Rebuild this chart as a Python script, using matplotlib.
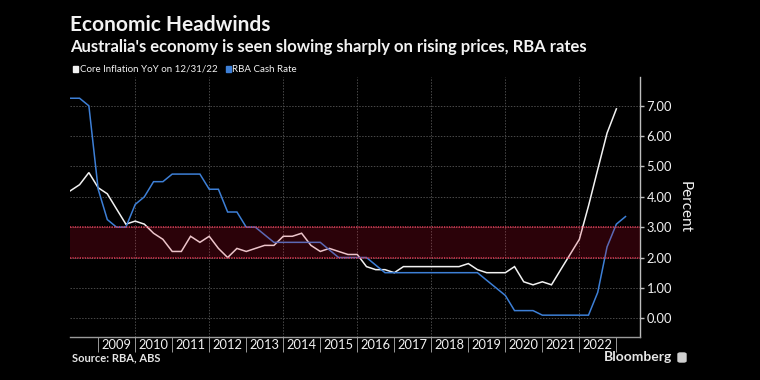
import matplotlib
matplotlib.use("Agg")
import matplotlib.pyplot as plt
import pandas as pd
import numpy as np
from matplotlib.patches import Rectangle, FancyBboxPatch

# ---------------- data (quarter-end values) ----------------
start_quarter = "2008-03-31"
core_inflation = [4.2, 4.4, 4.8, 4.3, 4.1, 3.6, 3.1, 3.2, 3.1, 2.8, 2.6, 2.2,
                  2.2, 2.7, 2.5, 2.7, 2.3, 2.0, 2.3, 2.2, 2.3, 2.4, 2.4, 2.7,
                  2.7, 2.8, 2.4, 2.2, 2.3, 2.2, 2.1, 2.1, 1.7, 1.6, 1.6, 1.5,
                  1.7, 1.7, 1.7, 1.7, 1.7, 1.7, 1.7, 1.8, 1.6, 1.5, 1.5, 1.5,
                  1.7, 1.2, 1.1, 1.2, 1.1, 1.6, 2.1, 2.6, 3.7, 4.9, 6.1, 6.9]
cash_rate = [7.25, 7.25, 7.00, 4.25, 3.25, 3.00, 3.00, 3.75, 4.00, 4.50, 4.50, 4.75,
             4.75, 4.75, 4.75, 4.25, 4.25, 3.50, 3.50, 3.00, 3.00, 2.75, 2.50, 2.50,
             2.50, 2.50, 2.50, 2.50, 2.25, 2.00, 2.00, 2.00, 2.00, 1.75, 1.50, 1.50,
             1.50, 1.50, 1.50, 1.50, 1.50, 1.50, 1.50, 1.50, 1.50, 1.25, 1.00, 0.75,
             0.25, 0.25, 0.25, 0.10, 0.10, 0.10, 0.10, 0.10, 0.10, 0.85, 2.35, 3.10,
             3.35]
target_band = [2.0, 3.0]
year_labels = list(range(2009, 2023))
y_ticks = [0, 1, 2, 3, 4, 5, 6, 7]

title = "Economic Headwinds"
subtitle = "Australia's economy is seen slowing sharply on rising prices, RBA rates"
legend_labels = ["Core Inflation YoY on 12/31/22", "RBA Cash Rate"]
source = "Source: RBA, ABS"


def to_decimal_year(dates):
    return np.array([d.year + d.dayofyear / (366 if d.is_leap_year else 365) for d in dates])


x_core = to_decimal_year(pd.date_range(start_quarter, periods=len(core_inflation), freq="QE"))
x_rate = to_decimal_year(pd.date_range(start_quarter, periods=len(cash_rate), freq="QE"))

# ---------------- styling ----------------
BG = "#000000"
WHITE = "#f2f2f2"
BLUE = "#3d7fd6"
GRID = "#4a4a4a"
AXIS = "#9a9a9a"
FONT = ["Lato", "DejaVu Sans"]
plt.rcParams["font.family"] = FONT

fig = plt.figure(figsize=(7.6, 3.8), dpi=100, facecolor=BG)
ax = fig.add_axes([70 / 760, 1 - 336.7 / 380, (639.7 - 70) / 760, (336.7 - 77) / 380])
ax.set_facecolor(BG)

ax.set_xlim(x_core[0] - 0.01, 2023.63)
ax.set_ylim(-0.61, 7.95)

# gridlines
for yv in y_ticks:
    ax.axhline(yv, color=GRID, lw=0.7, ls=(0, (1.5, 1.5)), zorder=1)
for yr in range(2010, 2023, 2):
    ax.axvline(yr, color=GRID, lw=0.7, ls=(0, (1.5, 1.5)), zorder=1)

# lines
ax.plot(x_core, core_inflation, color=WHITE, lw=1.1, zorder=3, solid_joinstyle="miter")
ax.plot(x_rate, cash_rate, color=BLUE, lw=1.1, zorder=3, solid_joinstyle="miter")

# target band overlay
ax.axhspan(target_band[0], target_band[1], color=(0.85, 0.06, 0.18), alpha=0.2, lw=0, zorder=4)
for yv in target_band:
    ax.axhline(yv, color="#e23a55", lw=1.1, ls=(0, (0.8, 0.8)), zorder=5)

# spines
for s in ["top", "left"]:
    ax.spines[s].set_visible(False)
ax.spines["bottom"].set_color(AXIS)
ax.spines["bottom"].set_linewidth(1.0)
ax.spines["right"].set_color("#bdbdbd")
ax.spines["right"].set_linewidth(1.0)

# y axis on right
ax.yaxis.tick_right()
ax.set_yticks(y_ticks)
ax.set_yticklabels([f"{v:.2f}" for v in y_ticks])
ax.tick_params(axis="y", colors="#bdbdbd", labelcolor=WHITE, length=3, width=1,
               labelsize=9.3, pad=2)
ax.yaxis.set_label_position("right")
ax.set_ylabel("Percent", color=WHITE, fontsize=11, rotation=270, labelpad=14)

# x axis: separators at year boundaries, labels centred
ax.set_xticks(list(range(2009, 2024)))
ax.set_xticklabels([])
ax.set_xticks([y + 0.5 for y in year_labels], minor=True)
ax.set_xticklabels([str(y) for y in year_labels], minor=True)
ax.tick_params(axis="x", which="major", colors=AXIS, length=11, width=0.7, direction="out")
ax.tick_params(axis="x", which="minor", length=0, labelcolor=WHITE, labelsize=9.3, pad=2)

# titles and legend
fig.text(70 / 760, 1 - 25 / 380, title, color=WHITE, fontsize=15, fontweight="bold",
         va="center", ha="left")
fig.text(70 / 760, 1 - 47 / 380, subtitle, color=WHITE, fontsize=12, fontweight="bold",
         va="center", ha="left")

ly = 1 - 69 / 380
fig.patches.append(Rectangle((73 / 760, ly - 2.5 / 380), 5 / 760, 5 / 380,
                             transform=fig.transFigure, color=WHITE, figure=fig))
fig.text(79.5 / 760, ly, legend_labels[0], color=WHITE, fontsize=7, va="center", ha="left")
fig.patches.append(Rectangle((226 / 760, ly - 2.5 / 380), 5 / 760, 5 / 380,
                             transform=fig.transFigure, color=BLUE, figure=fig))
fig.text(232.5 / 760, ly, legend_labels[1], color=WHITE, fontsize=7, va="center", ha="left")

fig.text(72 / 760, 1 - 358 / 380, source, color="#e6e6e6", fontsize=8, fontweight="bold",
         va="center", ha="left")
fig.text(672 / 760, 1 - 357 / 380, "Bloomberg", color="#e6e6e6", fontsize=10,
         fontweight="bold", va="center", ha="right")
fig.patches.append(FancyBboxPatch((678 / 760, 1 - 362 / 380), 8 / 760, 9 / 380,
                                  boxstyle="round,pad=0,rounding_size=0.003",
                                  transform=fig.transFigure, color="#d0d0d0", figure=fig))

fig.savefig("out.png", dpi=100, facecolor=BG)
